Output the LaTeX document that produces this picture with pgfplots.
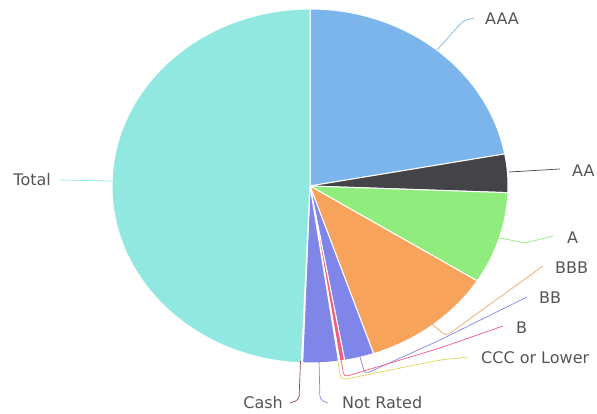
\documentclass[border=0pt]{standalone}
\usepackage{pgfplots}
\usepackage{pgfplotstable}
\pgfplotsset{compat=1.18}
\usepackage{fontspec}
\setmainfont{DejaVu Sans}
\definecolor{c1}{HTML}{7CB5EC}
\definecolor{c2}{HTML}{434348}
\definecolor{c3}{HTML}{90ED7D}
\definecolor{c4}{HTML}{F7A35C}
\definecolor{c5}{HTML}{8085E9}
\definecolor{c6}{HTML}{F15C80}
\definecolor{c7}{HTML}{E4D354}
\definecolor{c8}{HTML}{8085E8}
\definecolor{c9}{HTML}{8D4653}
\definecolor{c10}{HTML}{91E8E1}
\definecolor{lab}{HTML}{555555}
\pgfplotstableread{
label value col
AAA 22.1 c1
AA 3.5 c2
A 8.4 c3
BBB 10.8 c4
BB 2.4 c5
B 0.4 c6
CCC 0.1 c7
NR 2.9 c8
Cash 0.1 c9
Total 49.3 c10
}\piedata
\begin{document}
\begin{tikzpicture}
\begin{axis}[x=1pt,y=1pt,xmin=0,xmax=597,ymin=0,ymax=414,y dir=reverse,
  hide axis,scale only axis,clip=false]
\path (axis cs:0,0) rectangle (axis cs:597,414);
\def\angstart{90}
\pgfplotsforeachungrouped \i in {0,...,9}{%
  \pgfplotstablegetelem{\i}{value}\of\piedata \let\val\pgfplotsretval
  \pgfplotstablegetelem{\i}{col}\of\piedata \let\col\pgfplotsretval
  \pgfmathsetmacro\angend{\angstart-3.6*\val}%
  \edef\slice{\noexpand\fill[fill=\col,draw=white,line width=1pt,line join=round] (axis cs:310,186) -- ++(\angstart:198pt and 177pt) arc[start angle=\angstart,end angle=\angend,x radius=198pt,y radius=177pt] -- cycle;}%
  \slice
  \global\let\angstart\angend
}
% connectors
\begin{scope}[line width=0.7pt,rounded corners=4pt]
\draw[c1] (axis cs:437,50) -- (axis cs:463,21) -- (axis cs:474,18);
\draw[c2] (axis cs:509,172) -- (axis cs:560,169);
\draw[c3] (axis cs:500,238) -- (axis cs:525,243) -- (axis cs:553,236);
\draw[c4] (axis cs:432,324) -- (axis cs:446,336) -- (axis cs:543,266);
\draw[c5] (axis cs:360,357) -- (axis cs:365,374) -- (axis cs:440,340) -- (axis cs:527,297);
\draw[c6] (axis cs:341,359) -- (axis cs:344,377) -- (axis cs:440,348) -- (axis cs:503,326);
\draw[c7] (axis cs:337.5,359) -- (axis cs:341,380) -- (axis cs:440,360) -- (axis cs:468,357);
\draw[c8] (axis cs:319,361) -- (axis cs:320,400) -- (axis cs:328,403);
\draw[c9] (axis cs:300.5,361) -- (axis cs:299,400) -- (axis cs:290,403);
\draw[c10] (axis cs:112,181) -- (axis cs:60,180);
\end{scope}
\begin{scope}[every node/.style={text=lab,inner sep=0pt,font=\fontsize{16}{19}\selectfont}]
\node[anchor=west] at (axis cs:485,19) {AAA};
\node[anchor=west] at (axis cs:572,171) {AA};
\node[anchor=west] at (axis cs:567,238) {A};
\node[anchor=west] at (axis cs:555,268) {BBB};
\node[anchor=west] at (axis cs:539,298) {BB};
\node[anchor=west] at (axis cs:516,328) {B};
\node[anchor=west] at (axis cs:481,358) {CCC or Lower};
\node[anchor=west] at (axis cs:342,403) {Not Rated};
\node[anchor=east] at (axis cs:283,403) {Cash};
\node[anchor=east] at (axis cs:51,180) {Total};
\end{scope}
\end{axis}
\end{tikzpicture}
\end{document}
